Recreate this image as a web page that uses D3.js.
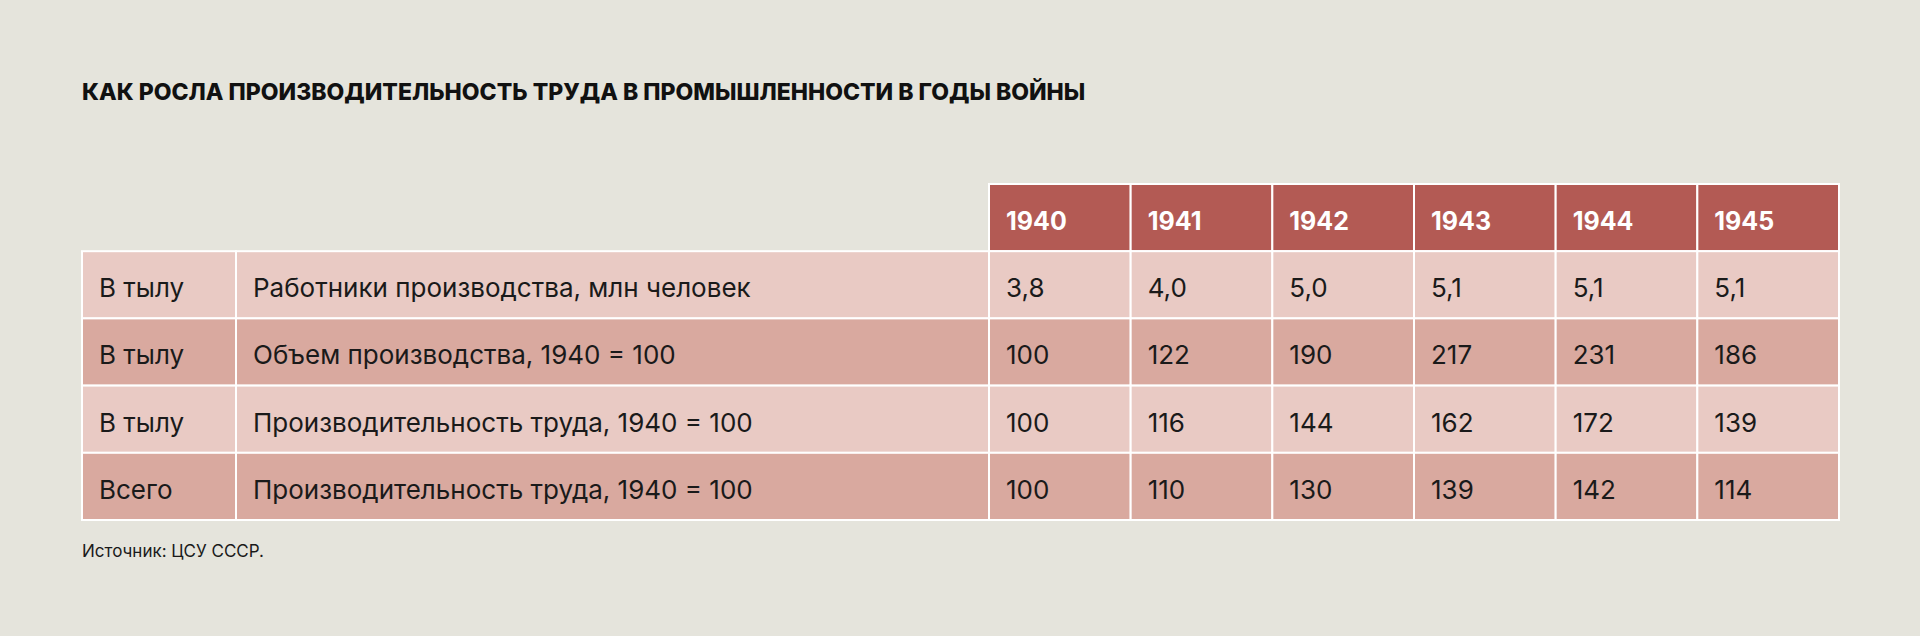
<!DOCTYPE html>
<html>
<head>
<meta charset="utf-8">
<script src="https://cdn.jsdelivr.net/npm/d3@7"></script>
<style>
  body { margin: 0; background: #e5e4dc; }
  svg { display: block; font-family: "Inter", "Noto Sans", sans-serif; }
</style>
</head>
<body>
<svg id="chart"></svg>
<script>
const years = ["1940", "1941", "1942", "1943", "1944", "1945"];
const groups = ["В тылу", "В тылу", "В тылу", "Всего"];
const indicators = [
  "Работники производства, млн человек",
  "Объем производства, 1940 = 100",
  "Производительность труда, 1940 = 100",
  "Производительность труда, 1940 = 100"
];
const values = [
  ["3,8", "4,0", "5,0", "5,1", "5,1", "5,1"],
  ["100", "122", "190", "217", "231", "186"],
  ["100", "116", "144", "162", "172", "139"],
  ["100", "110", "130", "139", "142", "114"]
];

const width = 1920, height = 636;
const svg = d3.select("#chart").attr("width", width).attr("height", height);

svg.append("text")
  .attr("x", 82).attr("y", 100)
  .attr("font-size", 23).attr("font-weight", 800).attr("fill", "#111")
  .text("КАК РОСЛА ПРОИЗВОДИТЕЛЬНОСТЬ ТРУДА В ПРОМЫШЛЕННОСТИ В ГОДЫ ВОЙНЫ");

// column layout
const x0 = 82, x1 = 236;
const xYear = d3.scaleBand().domain(years).range([989, 1839]);
const yRow = d3.scaleBand().domain(d3.range(-1, values.length)).range([184, 520]);

const lightFill = "#e9cac4", darkFill = "#d9a99f", headFill = "#b35a54";
const cell = (x, y, w, h, fill) =>
  svg.append("rect").attr("x", x).attr("y", y).attr("width", w).attr("height", h)
    .attr("fill", fill).attr("stroke", "#fff").attr("stroke-width", 2);
const label = (x, y, t, opts = {}) =>
  svg.append("text").attr("x", x).attr("y", y).attr("dy", "0.35em")
    .attr("font-size", opts.size || 26).attr("font-weight", opts.weight || 400)
    .attr("fill", opts.fill || "#1a1a1a").text(t);

// header
years.forEach(yr => {
  cell(xYear(yr), yRow(-1), xYear.bandwidth(), yRow.bandwidth(), headFill);
  label(xYear(yr) + 17, yRow(-1) + yRow.bandwidth() * 0.55, yr, { weight: 700, fill: "#fff", size: 25 });
});

// body
values.forEach((row, i) => {
  const fill = i % 2 === 0 ? lightFill : darkFill;
  const y = yRow(i), h = yRow.bandwidth(), cy = y + h * 0.55;
  cell(x0, y, x1 - x0, h, fill);
  label(x0 + 17, cy, groups[i]);
  cell(x1, y, xYear.range()[0] - x1, h, fill);
  label(x1 + 17, cy, indicators[i]);
  row.forEach((v, j) => {
    cell(xYear(years[j]), y, xYear.bandwidth(), h, fill);
    label(xYear(years[j]) + 17, cy, v);
  });
});

svg.append("text")
  .attr("x", 82).attr("y", 557)
  .attr("font-size", 17).attr("fill", "#1a1a1a")
  .text("Источник: ЦСУ СССР.");
</script>
</body>
</html>
